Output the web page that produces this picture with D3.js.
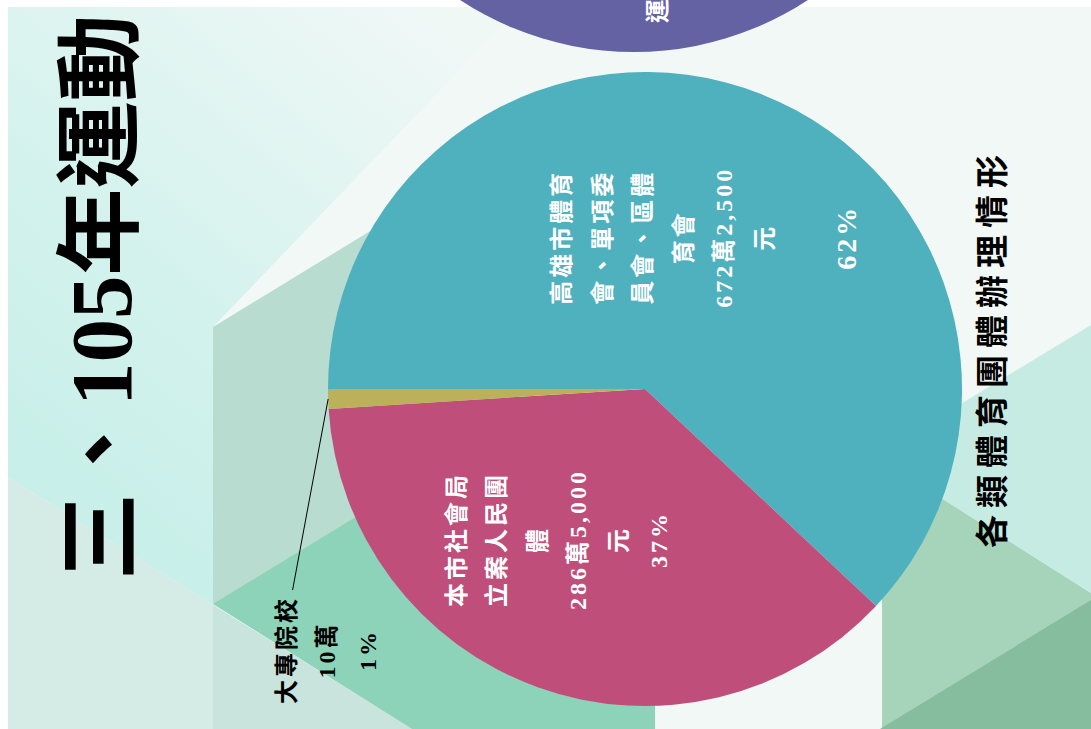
<!DOCTYPE html>
<html>
<head>
<meta charset="utf-8">
<script src="https://cdn.jsdelivr.net/npm/d3@7/dist/d3.min.js"></script>
<style>
  body { margin: 0; overflow: hidden; background: #fff; }
</style>
</head>
<body>
<div id="chart"></div>
<script>
// chart data
var categories = ["高雄市體育會、單項委員會、區體育會", "本市社會局立案人民團體", "大專院校"];
var amountLabels = ["672萬2,500元", "286萬5,000元", "10萬"];
var percents = [62, 37, 1];
var sliceColors = ["#4fb0be", "#c04e7b", "#bdb05a"];
var titleText = "三、105年運動";
var subtitleText = "各類體育團體辦理情形";

var width = 1091, height = 729;

var svg = d3.select("#chart")
    .append("svg")
    .attr("width", width)
    .attr("height", height);

// ---- slide background (screen coordinates) ----
var defs = svg.append("defs");
var grad = defs.append("linearGradient")
    .attr("id", "leftGrad")
    .attr("x1", 0.8).attr("y1", 0).attr("x2", 0.1).attr("y2", 1);
grad.append("stop").attr("offset", "0%").attr("stop-color", "#f0f8f6");
grad.append("stop").attr("offset", "55%").attr("stop-color", "#d3f2ed");
grad.append("stop").attr("offset", "100%").attr("stop-color", "#c4eee8");

var bg = svg.append("g");
bg.append("rect").attr("width", width).attr("height", height).attr("fill", "#fff");
bg.append("rect").attr("x", 8).attr("y", 7).attr("width", width - 8).attr("height", height - 7)
    .attr("fill", "#f2f8f6");

var shapes = [
    { pts: [[8, 7], [520, 7], [213, 327], [213, 605], [8, 477]], fill: "url(#leftGrad)" },
    { pts: [[8, 477], [412, 729], [8, 729]], fill: "#d5ece6" },
    { pts: [[213, 605], [412, 729], [213, 729]], fill: "#c9e4dc" },
    { pts: [[213, 327], [367, 233], [520, 140], [520, 520], [213, 604]], fill: "#b8dccf" },
    { pts: [[213, 604], [400, 490], [655, 490], [655, 729], [412, 729]], fill: "#8dd3b9" },
    { pts: [[875, 456], [1091, 593], [1091, 729], [882, 729], [882, 460]], fill: "#a5d4bb" },
    { pts: [[875, 456], [1091, 325], [1091, 593]], fill: "#c6ebe2" },
    { pts: [[880, 729], [1091, 600], [1091, 729]], fill: "#87bd9f" }
];
bg.selectAll("polygon.bgshape")
    .data(shapes)
    .enter()
    .append("polygon")
    .attr("class", "bgshape")
    .attr("points", d => d.pts.map(p => p.join(",")).join(" "))
    .attr("fill", d => d.fill);

// purple circle from the neighbouring element, cut off at the top
bg.append("circle")
    .attr("cx", 634).attr("cy", -265).attr("r", 317)
    .attr("fill", "#6462a3");

// ---- the slide itself is rotated: draw in upright coordinates ----
var g = svg.append("g")
    .attr("transform", "translate(0," + height + ") rotate(-90)");

var cjk = "'Liberation Serif', 'Noto Sans CJK TC', serif";

// cut-off text in the purple circle
g.append("text")
    .attr("x", 706).attr("y", 658)
    .attr("dominant-baseline", "central")
    .style("font-family", cjk)
    .style("font-size", "24px")
    .style("font-weight", "bold")
    .style("fill", "#fff")
    .text("運動");

// title
g.append("text")
    .attr("x", 149).attr("y", 101)
    .attr("dominant-baseline", "central")
    .style("font-family", cjk)
    .style("font-size", "87px")
    .style("font-weight", "bold")
    .style("fill", "#000")
    .text(titleText);

// subtitle
g.append("text")
    .attr("x", 181).attr("y", 990)
    .attr("dominant-baseline", "central")
    .style("font-family", "'Noto Sans CJK TC', sans-serif")
    .style("font-size", "33px")
    .style("font-weight", "bold")
    .style("letter-spacing", "7px")
    .style("fill", "#000")
    .text(subtitleText);

// pie
var radius = 317, cx = 340, cy = 645;
var pieData = categories.map((c, i) => ({
    name: c, amount: amountLabels[i], pct: percents[i], color: sliceColors[i], idx: i
}));

var pie = d3.pie().sort(null).value(d => d.pct);
var arc = d3.arc().innerRadius(0).outerRadius(radius);
var labelArc = d3.arc().innerRadius(160).outerRadius(160);
var edgeArc = d3.arc().innerRadius(radius).outerRadius(radius);

var pg = g.append("g").attr("transform", "translate(" + cx + "," + cy + ")");
var arcs = pie(pieData);

pg.selectAll("path.slice")
    .data(arcs)
    .enter()
    .append("path")
    .attr("class", "slice")
    .attr("d", arc)
    .attr("fill", d => d.data.color);

function chunk(s, n) {
    var out = [], chars = Array.from(s);
    for (var i = 0; i < chars.length; i += n) out.push(chars.slice(i, i + n).join(""));
    return out;
}

var nudges = [[3, 0], [0, -33], [-256, -158]];
var lineStep = 40.5;

arcs.forEach(function(d, i) {
    var lines = chunk(d.data.name, 5).concat(chunk(d.data.amount, 9));
    if (i === 0) lines.push("");
    lines.push(d.data.pct + "%");

    var c = labelArc.centroid(d);
    var lx = c[0] + nudges[i][0], ly = c[1] + nudges[i][1];
    var top = ly - (lines.length - 1) * lineStep / 2;
    var inside = i < 2;

    var t = pg.append("text")
        .style("font-family", cjk)
        .style("font-weight", "bold")
        .style("fill", inside ? "#fff" : "#000")
        .attr("text-anchor", "middle")
        .attr("dominant-baseline", "central");

    lines.forEach(function(line, j) {
        var isPct = j === lines.length - 1;
        t.append("tspan")
            .attr("x", lx)
            .attr("y", top + j * lineStep)
            .style("font-size", (isPct && i === 0 ? 28 : 24) + "px")
            .style("letter-spacing", "3px")
            .text(line);
    });

    if (!inside) {
        var e = edgeArc.centroid(d);
        pg.append("line")
            .attr("x1", e[0]).attr("y1", e[1])
            .attr("x2", lx + 60).attr("y2", top + 6)
            .attr("stroke", "#000")
            .attr("stroke-width", 1);
    }
});
</script>
</body>
</html>
